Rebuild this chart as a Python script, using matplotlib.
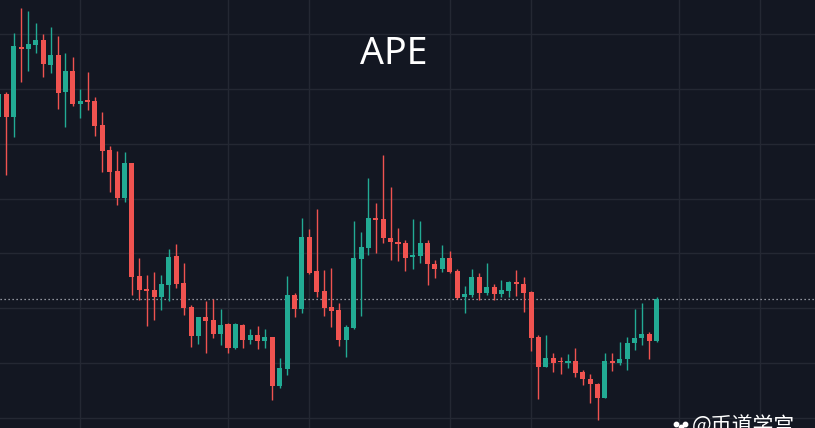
import numpy as np
import matplotlib
matplotlib.use('Agg')
import matplotlib.pyplot as plt

# daily candles, oldest first (first one is cut by the left edge)
opens = [3.33, 3.56, 3.33, 4.03, 4.01, 4.05, 4.10, 3.85, 3.95, 3.58,
         3.79, 3.46, 3.49, 3.49, 3.25, 3.00, 2.79, 2.52, 2.87, 1.74,
         1.61, 1.60, 1.53, 1.65, 1.94, 1.67, 1.43, 1.14, 1.33, 1.30,
         1.16, 1.26, 1.02, 1.25, 1.10, 1.15, 1.09, 1.13, 0.64, 0.81,
         1.55, 1.41, 2.13, 1.79, 1.59, 1.43, 1.40, 1.10, 1.22, 1.91,
         2.02, 2.32, 2.31, 2.12, 2.08, 2.07, 1.93, 1.94, 2.07, 1.86,
         1.81, 1.92, 1.79, 1.53, 1.55, 1.73, 1.57, 1.63, 1.56, 1.59,
         1.68, 1.66, 1.58, 1.13, 0.83, 0.92, 0.89, 0.87, 0.89, 0.78,
         0.71, 0.66, 0.52, 0.89, 0.87, 0.91, 1.07, 1.12, 1.16, 1.09]
highs = [3.60, 3.58, 4.17, 4.42, 4.39, 4.27, 4.16, 4.23, 4.14, 3.97,
         3.93, 3.61, 3.78, 3.53, 3.38, 3.04, 2.99, 2.98, 2.87, 1.92,
         1.75, 1.78, 1.75, 2.01, 2.06, 1.87, 1.45, 1.33, 1.49, 1.51,
         1.41, 1.27, 1.27, 1.26, 1.21, 1.24, 1.21, 1.13, 0.92, 1.74,
         1.57, 2.32, 2.21, 2.41, 1.80, 1.82, 1.47, 1.25, 2.29, 2.18,
         2.72, 2.47, 2.95, 2.63, 2.22, 2.10, 2.31, 2.29, 2.10, 1.90,
         2.05, 1.99, 1.81, 1.64, 1.81, 1.77, 1.87, 1.66, 1.70, 1.69,
         1.80, 1.73, 1.59, 1.15, 1.15, 0.97, 0.93, 0.96, 1.02, 0.80,
         0.76, 0.67, 0.97, 0.97, 1.08, 1.13, 1.41, 1.47, 1.18, 1.53]
lows = [3.30, 2.75, 3.13, 3.68, 3.79, 3.97, 3.73, 3.77, 3.41, 3.23,
        3.44, 3.32, 3.40, 3.14, 2.78, 2.58, 2.45, 2.48, 1.55, 1.50,
        1.24, 1.30, 1.40, 1.49, 1.62, 1.35, 1.03, 1.06, 0.97, 1.12,
        1.05, 0.97, 1.01, 1.02, 1.06, 1.01, 1.02, 0.50, 0.62, 0.75,
        1.33, 1.37, 1.76, 1.53, 1.34, 1.23, 1.04, 0.93, 1.21, 1.34,
        1.95, 1.97, 2.07, 1.90, 1.89, 1.79, 1.81, 1.87, 1.65, 1.72,
        1.78, 1.77, 1.51, 1.37, 1.53, 1.50, 1.55, 1.50, 1.53, 1.53,
        1.54, 1.38, 0.99, 0.51, 0.83, 0.78, 0.76, 0.82, 0.73, 0.65,
        0.47, 0.30, 0.52, 0.79, 0.85, 0.80, 1.00, 1.05, 0.91, 1.08]
closes = [3.56, 3.33, 4.04, 4.01, 4.06, 4.10, 3.86, 3.95, 3.57, 3.79,
          3.46, 3.49, 3.48, 3.24, 2.99, 2.78, 2.52, 2.87, 1.73, 1.60,
          1.59, 1.53, 1.66, 1.93, 1.66, 1.42, 1.14, 1.33, 1.29, 1.16,
          1.25, 1.02, 1.26, 1.10, 1.15, 1.09, 1.13, 0.64, 0.82, 1.55,
          1.41, 2.13, 1.77, 1.58, 1.42, 1.39, 1.10, 1.23, 1.92, 2.03,
          2.32, 2.30, 2.12, 2.08, 2.06, 1.92, 1.95, 2.07, 1.86, 1.81,
          1.92, 1.78, 1.52, 1.56, 1.73, 1.57, 1.63, 1.56, 1.60, 1.68,
          1.66, 1.57, 1.12, 0.83, 0.92, 0.87, 0.88, 0.89, 0.77, 0.71,
          0.66, 0.52, 0.89, 0.87, 0.91, 1.07, 1.12, 1.16, 1.09, 1.51]

# candles where the time grid lines fall
grid_candles = [11, 31, 42, 61, 72, 92, 103]

bg = '#131722'
grid_col = '#242833'
up_col = '#22ab94'
down_col = '#f05350'

o = np.array(opens)
h = np.array(highs)
l = np.array(lows)
c = np.array(closes)
x = np.arange(len(o))
colors = np.where(c >= o, up_col, down_col)

fig = plt.figure(figsize=(8.15, 4.28), dpi=100, facecolor=bg)
ax = fig.add_axes([0, 0, 1, 1], facecolor=bg)

# grid
for g in np.arange(0.32, 4.3, 0.5486):
    ax.axhline(g, color=grid_col, lw=1, zorder=0)
for g in grid_candles:
    ax.axvline(g, color=grid_col, lw=1, zorder=0)

# candles
ax.vlines(x, l, h, colors=colors, lw=1, zorder=2)
body = np.maximum(np.abs(c - o), 0.015)
ax.bar(x, body, bottom=np.minimum(o, c), width=0.68, color=colors,
       linewidth=0, zorder=3)

# last price line
ax.axhline(c[-1], color='#b8bbc4', lw=0.9, ls=(0, (1, 2.2)), zorder=1)

ax.set_xlim(0.15, 110.42)
ax.set_ylim(0.22, 4.50)
ax.axis('off')

fig.text(0.483, 0.874, 'APE', color='white', fontsize=27,
         ha='center', va='center', family=['Noto Sans', 'DejaVu Sans'])

# watermark
fig.text(0.849, 0.030, '@币道学宫', color='white', fontsize=15, ha='left',
         va='top', family=['Noto Sans CJK SC', 'DejaVu Sans'])
ax.scatter([0.830, 0.840, 0.835], [0.010, 0.010, 0.002], s=10, c='white',
           transform=fig.transFigure, clip_on=False, zorder=5)

fig.savefig('out.png', dpi=100, facecolor=bg)
